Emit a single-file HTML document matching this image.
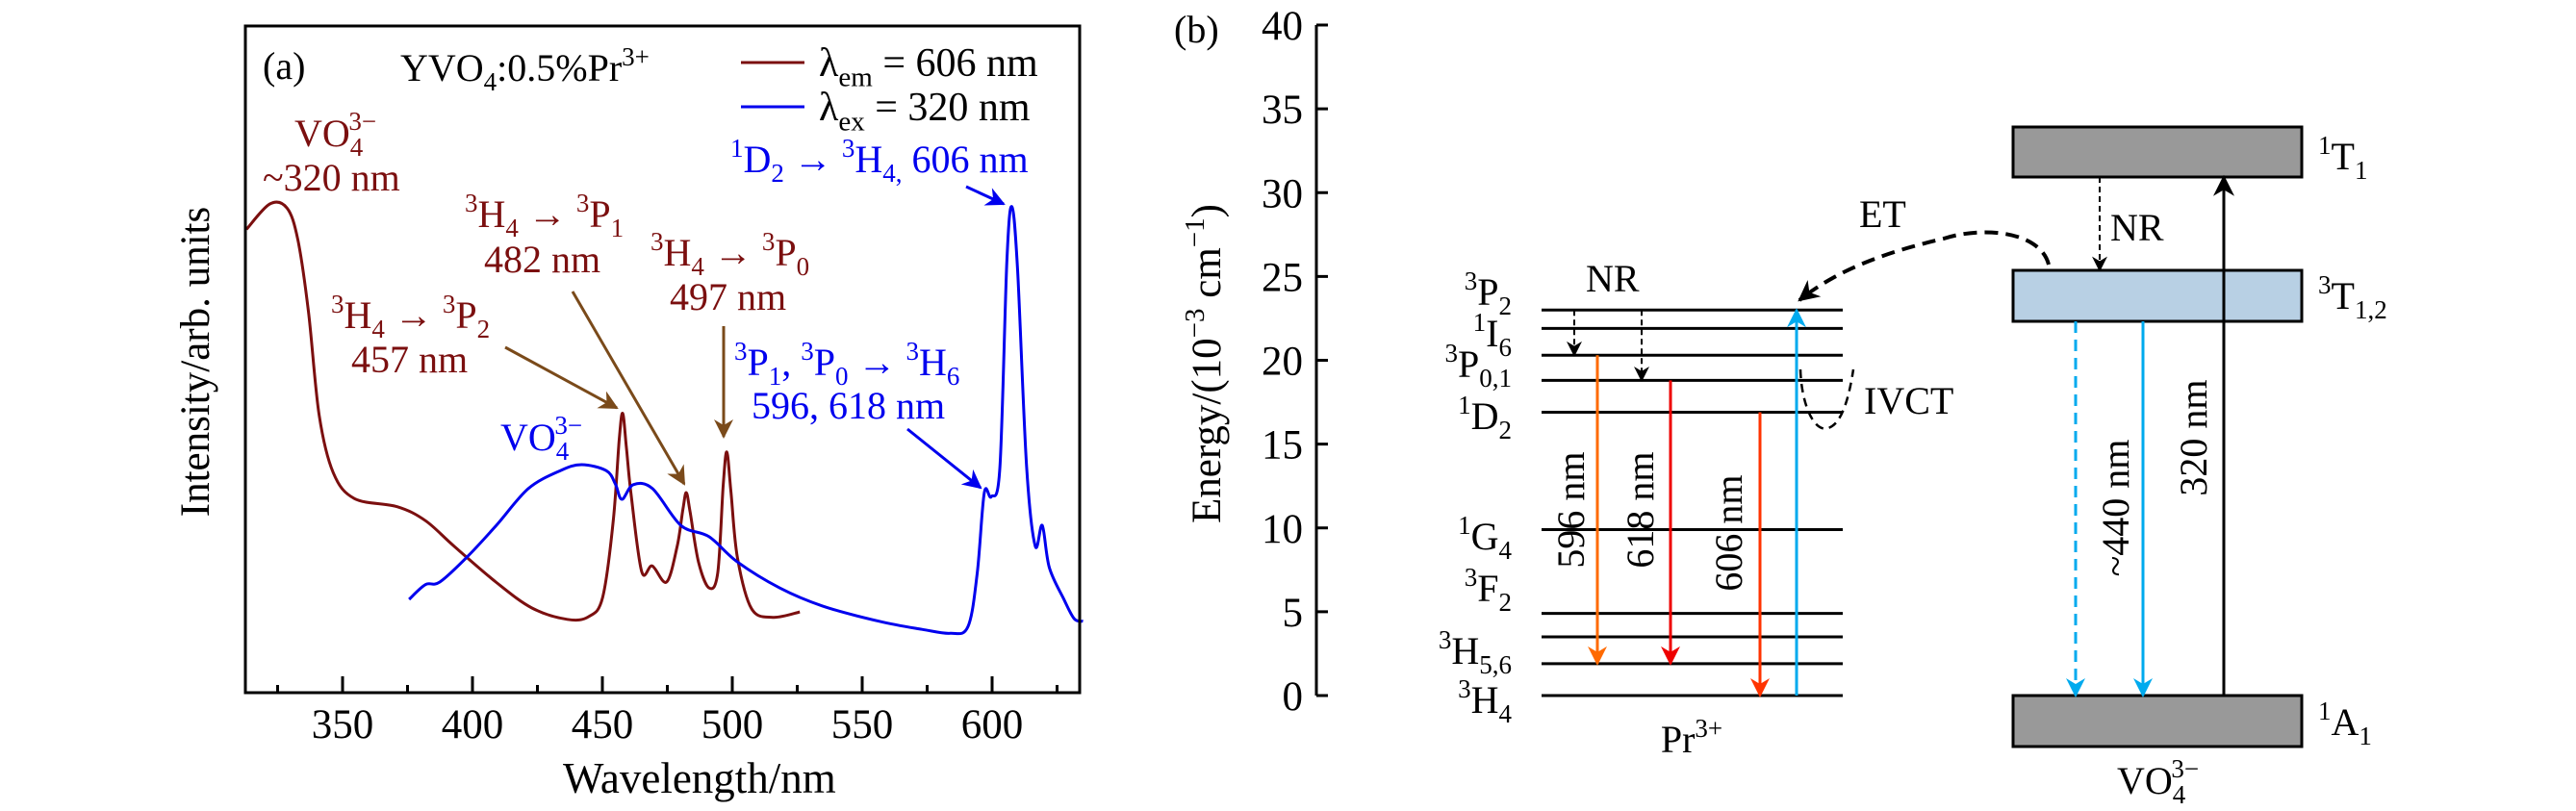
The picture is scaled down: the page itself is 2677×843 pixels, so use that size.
<!DOCTYPE html>
<html><head><meta charset="utf-8"><style>
html,body{margin:0;padding:0;background:#fff;}
svg{display:block;}
text{font-family:"Liberation Serif","DejaVu Serif",serif;}
</style></head><body>
<svg id="fig" width="2677" height="843" viewBox="0 0 2677 843" font-family="Liberation Serif, serif">
<defs>
<marker id="ab" markerUnits="userSpaceOnUse" viewBox="0 0 10 10" refX="9" refY="5" markerWidth="24" markerHeight="20" orient="auto"><path d="M0,0L10,5L0,10L3,5z" fill="#7a4a1a"/></marker>
<marker id="abl" markerUnits="userSpaceOnUse" viewBox="0 0 10 10" refX="9" refY="5" markerWidth="24" markerHeight="20" orient="auto"><path d="M0,0L10,5L0,10L3,5z" fill="#0000ee"/></marker>
<marker id="ak" markerUnits="userSpaceOnUse" viewBox="0 0 10 10" refX="9" refY="5" markerWidth="20" markerHeight="16" orient="auto"><path d="M0,0L10,5L0,10L3,5z" fill="#000"/></marker>
<marker id="akb" markerUnits="userSpaceOnUse" viewBox="0 0 10 10" refX="9" refY="5" markerWidth="28" markerHeight="22" orient="auto"><path d="M0,0L10,5L0,10L3,5z" fill="#000"/></marker>
<marker id="ao" markerUnits="userSpaceOnUse" viewBox="0 0 10 10" refX="9" refY="5" markerWidth="28" markerHeight="20" orient="auto"><path d="M0,0L10,5L0,10L3,5z" fill="#ff6a00"/></marker>
<marker id="ar" markerUnits="userSpaceOnUse" viewBox="0 0 10 10" refX="9" refY="5" markerWidth="28" markerHeight="20" orient="auto"><path d="M0,0L10,5L0,10L3,5z" fill="#ee0000"/></marker>
<marker id="arr" markerUnits="userSpaceOnUse" viewBox="0 0 10 10" refX="9" refY="5" markerWidth="28" markerHeight="20" orient="auto"><path d="M0,0L10,5L0,10L3,5z" fill="#ff3300"/></marker>
<marker id="ac" markerUnits="userSpaceOnUse" viewBox="0 0 10 10" refX="9" refY="5" markerWidth="28" markerHeight="20" orient="auto"><path d="M0,0L10,5L0,10L3,5z" fill="#00aaee"/></marker>
</defs>
<g id="pa"></g>
<g id="pb"></g>
</svg>
<script>
// ---- Panel (a) data ----
const xTicks = [350,400,450,500,550,600];
const emWl = [313,322,328.6,332.8,336.9,341,346.4,354.6,371,381.9,392.8,409,422.9,436.5,444.7,450.1,454.2,456.5,457.8,459.2,461,465.1,469.2,474.7,478.8,481,482.3,483.8,487,491.1,494.4,496.5,497.9,499.5,502,507.4,515.6,526];
const emInt = [69.5,73.3,72.7,67.9,57.1,41.6,33,29.1,27.9,25.8,22,16.6,12.7,11,11.4,14.3,25.8,38,41.9,37,29.9,18.2,19,16.6,22,27.5,30,27,19.6,15.7,18,31,36.1,30,20.2,12.6,11.3,12.1];
const exWl = [375.6,381.9,387.4,398.3,409.2,421.5,433.8,442,451.5,455,457.5,461.9,469.3,480.2,491,502,518.3,534.7,556.6,573,583.9,590.7,594.3,597,599.7,603,605.7,607.6,609.8,613.3,616.6,619.3,622,627.5,631.6,635];
const exInt = [14,16.2,16.6,20.5,25.1,30.6,33.3,34.2,33.3,31.3,29,31.2,30.6,25.1,23.4,19.6,15.7,13,10.7,9.5,8.9,9.9,18,30,29.4,33.8,64.9,72.9,63.4,33.8,22,25.1,18.8,14.1,11.1,10.7];
// ---- Panel (b) data ----
const eTicks = [0,5,10,15,20,25,30,35,40];
const prLevels = [23.0,21.9,20.3,18.8,16.9,9.9,4.9,3.5,1.9,0];

const NS='http://www.w3.org/2000/svg';
function mk(parent,tag,attrs,text){const e=document.createElementNS(NS,tag);for(const k in attrs)e.setAttribute(k,attrs[k]);if(text!==undefined)e.textContent=text;parent.appendChild(e);return e;}
const pa=document.getElementById('pa'), pb=document.getElementById('pb');
const FS=40;

const xA = w => 356 + (w-350)*2.7;
const yA = v => 720 - v*6.93;

function smooth(pts){
  let d='M'+pts[0][0].toFixed(1)+','+pts[0][1].toFixed(1);
  for(let i=0;i<pts.length-1;i++){
    const p0=pts[Math.max(0,i-1)],p1=pts[i],p2=pts[i+1],p3=pts[Math.min(pts.length-1,i+2)];
    const c1=[p1[0]+(p2[0]-p0[0])/6,p1[1]+(p2[1]-p0[1])/6];
    const c2=[p2[0]-(p3[0]-p1[0])/6,p2[1]-(p3[1]-p1[1])/6];
    d+='C'+c1[0].toFixed(1)+','+c1[1].toFixed(1)+' '+c2[0].toFixed(1)+','+c2[1].toFixed(1)+' '+p2[0].toFixed(1)+','+p2[1].toFixed(1);
  }
  return d;
}
let em=mk(pa,'path',{d:smooth(emWl.map((w,i)=>[xA(w),yA(emInt[i])])),fill:'none',stroke:'#7b0f0f','stroke-width':3,'stroke-linejoin':'round'});


let ex=mk(pa,'path',{d:smooth(exWl.map((w,i)=>[xA(w),yA(exInt[i])])),fill:'none',stroke:'#0000ee','stroke-width':3,'stroke-linejoin':'round'});



let fr=mk(pa,'rect',{x:255,y:27,width:867,height:693,fill:'none',stroke:'#000','stroke-width':3});


for(let w=325;w<=625;w+=25){
  const major = w%50===0;
  mk(pa,'line',{x1:xA(w),x2:xA(w),y1:720,y2:major?703:712,stroke:'#000','stroke-width':3});
}
xTicks.forEach(t=>{
  const tl=mk(pa,'text',{x:xA(t),y:767,'font-size':43,'text-anchor':'middle'},String(t));
  
  
});

function R(parent,x,y,segs,attrs,name){
  const fs=+(attrs['font-size']||FS);
  const g=mk(parent,'text',Object.assign({x:x,y:y,'font-size':fs},attrs));
  
  
  let cur=0;
  const small=Math.round(fs*0.68);
  segs.forEach(s=>{
    const k=s[0], t=s[1];
    if(k==='ud'){
      const [lo,hi]=t.split('|');
      let tgt=fs*0.25;
      mk(g,'tspan',{dy:tgt-cur,'font-size':small},lo);cur=tgt;
      tgt=-fs*0.42;
      mk(g,'tspan',{dy:tgt-cur,dx:-small*0.55,'font-size':small},hi);cur=tgt;
      return;
    }
    const tgt = k==='u'?-fs*0.4:(k==='d'?fs*0.25:0);
    mk(g,'tspan',{dy:tgt-cur,'font-size':k==='n'?fs:small},t);
    cur=tgt;
  });
  return g;
}
const B='#7b0f0f', BL='#0000ee';
R(pa,585,824,[['n','Wavelength/nm']],{'font-size':45},'x-axis-title');
R(pa,0,0,[['n','Intensity/arb. units']],{'font-size':43,transform:'translate(217,376) rotate(-90)','text-anchor':'middle'},'y-axis-title');
R(pa,273,82,[['n','(a)']],{},'panel-a-label');
R(pa,416,84,[['n','YVO'],['d','4'],['n',':0.5%Pr'],['u','3+']],{},'sample-label');
mk(pa,'line',{x1:770,x2:836,y1:65,y2:65,stroke:B,'stroke-width':3});
mk(pa,'line',{x1:770,x2:836,y1:111,y2:111,stroke:BL,'stroke-width':3});
R(pa,851,79,[['n','λ'],['d','em'],['n',' = 606 nm']],{'font-size':42},'legend-emission');
R(pa,851,125,[['n','λ'],['d','ex'],['n',' = 320 nm']],{'font-size':42},'legend-excitation');
R(pa,306,152,[['n','VO'],['ud','4|3−']],{fill:B},'vo4-emission-label');
R(pa,273,198,[['n','~320 nm']],{fill:B},'vo4-wavelength-label');
R(pa,483,236,[['u','3'],['n','H'],['d','4'],['n',' → '],['u','3'],['n','P'],['d','1']],{fill:B},'transition-3p1');
R(pa,503,283,[['n','482 nm']],{fill:B},'label-482');
R(pa,676,276,[['u','3'],['n','H'],['d','4'],['n',' → '],['u','3'],['n','P'],['d','0']],{fill:B},'transition-3p0');
R(pa,696,322,[['n','497 nm']],{fill:B},'label-497');
R(pa,344,341,[['u','3'],['n','H'],['d','4'],['n',' → '],['u','3'],['n','P'],['d','2']],{fill:B},'transition-3p2');
R(pa,365,387,[['n','457 nm']],{fill:B},'label-457');
R(pa,759,179,[['u','1'],['n','D'],['d','2'],['n',' → '],['u','3'],['n','H'],['d','4,'],['n',' 606 nm']],{fill:BL},'transition-1d2');
R(pa,763,390,[['u','3'],['n','P'],['d','1'],['n',', '],['u','3'],['n','P'],['d','0'],['n',' → '],['u','3'],['n','H'],['d','6']],{fill:BL},'transition-3h6');
R(pa,781,435,[['n','596, 618 nm']],{fill:BL},'label-596-618');
R(pa,520,468,[['n','VO'],['ud','4|3−']],{fill:BL},'vo4-excitation-label');
[[525,361,641,424,'ab'],[595,303,711,503,'ab'],[752,339,752,454,'ab'],[1004,194,1043,212,'abl'],[943,446,1019,507,'abl']].forEach((a,i)=>{
  const l=mk(pa,'line',{x1:a[0],y1:a[1],x2:a[2],y2:a[3],stroke:a[4]==='ab'?'#7a4a1a':BL,'stroke-width':3,'marker-end':'url(#'+a[4]+')'});
  
  
});

// ---- Panel (b) ----
const yE = v => 723 - v*17.425;
R(pb,1220,44,[['n','(b)']],{},'panel-b-label');
mk(pb,'line',{x1:1368,x2:1368,y1:yE(40),y2:yE(0),stroke:'#000','stroke-width':3});
eTicks.forEach(t=>{
  mk(pb,'line',{x1:1368,x2:1380,y1:yE(t),y2:yE(t),stroke:'#000','stroke-width':3});
  R(pb,1354,yE(t)+15,[['n',String(t)]],{'font-size':43,'text-anchor':'end'},'y-tick-'+t);
});
R(pb,0,0,[['n','Energy/(10'],['u','−3'],['n',' cm'],['u','−1'],['n',')']],{'font-size':43,transform:'translate(1268,378) rotate(-90)','text-anchor':'middle'},'y-axis-title-energy');
prLevels.forEach((v,i)=>{
  const l=mk(pb,'line',{x1:1602,x2:1915,y1:yE(v),y2:yE(v),stroke:'#000','stroke-width':3});
  
  
});
const lab=[[317,'3','P','2'],[360,'1','I','6'],[392,'3','P','0,1'],[446,'1','D','2'],[571,'1','G','4'],[625,'3','F','2'],[690,'3','H','5,6'],[741,'3','H','4']];
lab.forEach((a,i)=>R(pb,1571,a[0],[['u',a[1]],['n',a[2]],['d',a[3]]],{'text-anchor':'end'},'level-label-'+i));
R(pb,1648,303,[['n','NR']],{},'nr-label-pr');
mk(pb,'line',{x1:1636,x2:1636,y1:yE(23),y2:yE(20.3),stroke:'#000','stroke-width':2,'stroke-dasharray':'6,4','marker-end':'url(#ak)'});
mk(pb,'line',{x1:1706,x2:1706,y1:yE(23),y2:yE(18.8),stroke:'#000','stroke-width':2,'stroke-dasharray':'6,4','marker-end':'url(#ak)'});
mk(pb,'line',{x1:1660,x2:1660,y1:yE(20.3),y2:yE(1.9),stroke:'#ff6a00','stroke-width':3,'marker-end':'url(#ao)'});
mk(pb,'line',{x1:1736,x2:1736,y1:yE(18.8),y2:yE(1.9),stroke:'#ee0000','stroke-width':3,'marker-end':'url(#ar)'});
mk(pb,'line',{x1:1829,x2:1829,y1:yE(16.9),y2:yE(0),stroke:'#ff3300','stroke-width':3,'marker-end':'url(#arr)'});
mk(pb,'line',{x1:1867,x2:1867,y1:yE(0),y2:yE(23),stroke:'#00aaee','stroke-width':3,'marker-end':'url(#ac)'});
R(pb,0,0,[['n','596 nm']],{transform:'translate(1646,530) rotate(-90)','text-anchor':'middle'},'label-596nm');
R(pb,0,0,[['n','618 nm']],{transform:'translate(1718,530) rotate(-90)','text-anchor':'middle'},'label-618nm');
R(pb,0,0,[['n','606 nm']],{transform:'translate(1810,554) rotate(-90)','text-anchor':'middle'},'label-606nm');
mk(pb,'path',{d:'M1871,384 C1872,420 1885,450 1900,445 C1915,440 1922,410 1926,384',fill:'none',stroke:'#000','stroke-width':2.5,'stroke-dasharray':'9,6'});
R(pb,1937,430,[['n','IVCT']],{},'ivct-label');
mk(pb,'path',{d:'M2129,275 C2120,240 2060,235 2020,248 C1960,262 1910,280 1870,312',fill:'none',stroke:'#000','stroke-width':4,'stroke-dasharray':'14,8','marker-end':'url(#akb)'});
R(pb,1932,236,[['n','ET']],{},'et-label');
[[132,184,'#999999','box-1t1'],[281,334,'#b8d0e4','box-3t12'],[723,776,'#999999','box-1a1']].forEach(b=>{
  const r=mk(pb,'rect',{x:2092,y:b[0],width:300,height:b[1]-b[0],fill:b[2],stroke:'#000','stroke-width':3});
  
  
});
R(pb,2409,176,[['u','1'],['n','T'],['d','1']],{},'label-1t1');
R(pb,2409,321,[['u','3'],['n','T'],['d','1,2']],{},'label-3t12');
R(pb,2409,764,[['u','1'],['n','A'],['d','1']],{},'label-1a1');
mk(pb,'line',{x1:2182,x2:2182,y1:184,y2:281,stroke:'#000','stroke-width':2,'stroke-dasharray':'6,4','marker-end':'url(#ak)'});
R(pb,2193,250,[['n','NR']],{},'nr-label-vo4');
mk(pb,'line',{x1:2157,x2:2157,y1:334,y2:723,stroke:'#00aaee','stroke-width':3,'stroke-dasharray':'12,7','marker-end':'url(#ac)'});
mk(pb,'line',{x1:2227,x2:2227,y1:334,y2:723,stroke:'#00aaee','stroke-width':3,'marker-end':'url(#ac)'});
mk(pb,'line',{x1:2311,x2:2311,y1:723,y2:184,stroke:'#000','stroke-width':3,'marker-end':'url(#akb)'});
R(pb,0,0,[['n','~440 nm']],{transform:'translate(2212,528) rotate(-90)','text-anchor':'middle'},'label-440nm');
R(pb,0,0,[['n','320 nm']],{transform:'translate(2293,455) rotate(-90)','text-anchor':'middle'},'label-320nm');
R(pb,1758,782,[['n','Pr'],['u','3+']],{'text-anchor':'middle'},'pr-ion-label');
R(pb,2200,825,[['n','VO'],['ud','4|3−']],{},'vo4-ion-label');
</script>
</body></html>
